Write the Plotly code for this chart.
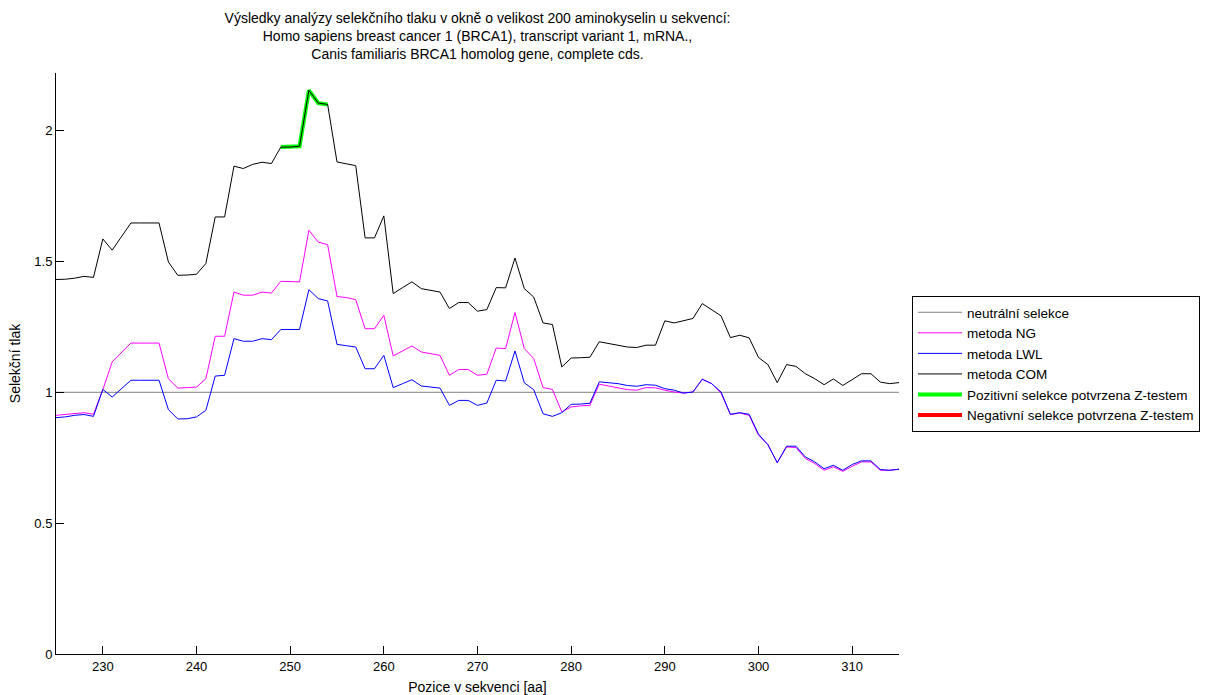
import plotly.graph_objects as go

# Pozice v sekvenci (aminokyseliny)
pozice = list(range(225, 316))

# Selekční tlak – metoda NG
metoda_ng = [
    0.912, 0.915, 0.918, 0.922, 0.916, 1.010, 1.116, 1.154, 1.188, 1.188,
    1.188, 1.188, 1.052, 1.016, 1.018, 1.020, 1.052, 1.214, 1.214, 1.383,
    1.371, 1.371, 1.383, 1.379, 1.424, 1.422, 1.422, 1.619, 1.574, 1.564,
    1.366, 1.362, 1.354, 1.243, 1.243, 1.294, 1.139, 1.158, 1.177, 1.154,
    1.148, 1.141, 1.065, 1.087, 1.087, 1.065, 1.069, 1.169, 1.167, 1.305,
    1.167, 1.129, 1.018, 1.011, 0.925, 0.944, 0.948, 0.950, 1.031, 1.023,
    1.017, 1.010, 1.008, 1.018, 1.017, 1.008, 1.001, 0.997, 1.001, 1.050,
    1.033, 0.997, 0.915, 0.921, 0.912, 0.836, 0.800, 0.731, 0.791, 0.789,
    0.747, 0.728, 0.702, 0.715, 0.698, 0.717, 0.734, 0.734, 0.702, 0.702,
    0.706,
]

# Selekční tlak – metoda LWL
metoda_lwl = [
    0.903, 0.906, 0.912, 0.915, 0.908, 1.011, 0.982, 1.014, 1.046, 1.046,
    1.046, 1.046, 0.934, 0.898, 0.899, 0.906, 0.931, 1.062, 1.065, 1.205,
    1.195, 1.195, 1.205, 1.201, 1.240, 1.240, 1.240, 1.392, 1.358, 1.349,
    1.183, 1.178, 1.173, 1.090, 1.090, 1.141, 1.018, 1.033, 1.048, 1.024,
    1.020, 1.016, 0.950, 0.969, 0.969, 0.950, 0.959, 1.046, 1.043, 1.158,
    1.036, 1.010, 0.918, 0.908, 0.922, 0.954, 0.955, 0.958, 1.040, 1.037,
    1.033, 1.026, 1.023, 1.029, 1.027, 1.014, 1.008, 0.997, 1.001, 1.050,
    1.033, 1.001, 0.916, 0.922, 0.916, 0.840, 0.800, 0.731, 0.794, 0.794,
    0.753, 0.734, 0.708, 0.721, 0.702, 0.724, 0.738, 0.738, 0.705, 0.702,
    0.706,
]

# Selekční tlak – metoda COM
metoda_com = [
    1.431, 1.432, 1.436, 1.443, 1.439, 1.586, 1.543, 1.595, 1.647, 1.647,
    1.647, 1.647, 1.498, 1.447, 1.448, 1.451, 1.492, 1.670, 1.670, 1.864,
    1.855, 1.871, 1.879, 1.874, 1.937, 1.937, 1.940, 2.154, 2.105, 2.100,
    1.880, 1.874, 1.866, 1.590, 1.590, 1.674, 1.377, 1.400, 1.422, 1.396,
    1.390, 1.383, 1.320, 1.343, 1.343, 1.310, 1.316, 1.400, 1.399, 1.513,
    1.396, 1.364, 1.265, 1.259, 1.097, 1.131, 1.132, 1.134, 1.193, 1.186,
    1.180, 1.173, 1.171, 1.180, 1.180, 1.273, 1.265, 1.273, 1.282, 1.339,
    1.316, 1.292, 1.209, 1.218, 1.208, 1.133, 1.106, 1.037, 1.106, 1.099,
    1.071, 1.052, 1.029, 1.051, 1.026, 1.048, 1.071, 1.071, 1.039, 1.033,
    1.037,
]

# Neutrální selekce
neutralni = 1.0

# Pozice se selekcí potvrzenou Z-testem (metoda COM)
pozitivni_pozice = [249, 250, 251, 252, 253, 254]
negativni_pozice = []

x_ticks = [230, 240, 250, 260, 270, 280, 290, 300, 310]
y_ticks = [0, 0.5, 1, 1.5, 2]
y_tick_text = ["0", "0.5", "1", "1.5", "2"]

com_dle_pozice = dict(zip(pozice, metoda_com))

FONT = "Liberation Sans, Arial, sans-serif"

fig = go.Figure()

fig.add_trace(go.Scatter(
    x=[pozice[0], pozice[-1]], y=[neutralni, neutralni], mode="lines",
    name="neutrální selekce", line=dict(color="#808080", width=1),
    legendrank=1,
))
fig.add_trace(go.Scatter(
    x=pozice, y=metoda_ng, mode="lines", name="metoda NG",
    line=dict(color="#ff00ff", width=1), legendrank=2,
))
fig.add_trace(go.Scatter(
    x=pozice, y=metoda_lwl, mode="lines", name="metoda LWL",
    line=dict(color="#0000ff", width=1), legendrank=3,
))
# zvýraznění pod křivkou COM
fig.add_trace(go.Scatter(
    x=pozitivni_pozice, y=[com_dle_pozice[p] for p in pozitivni_pozice],
    mode="lines", name="Pozitivní selekce potvrzena Z-testem",
    line=dict(color="#00ff00", width=4), legendrank=5,
))
fig.add_trace(go.Scatter(
    x=negativni_pozice if negativni_pozice else [pozice[0]],
    y=[com_dle_pozice[p] for p in negativni_pozice] if negativni_pozice else [None],
    mode="lines", name="Negativní selekce potvrzena Z-testem",
    line=dict(color="#ff0000", width=4), legendrank=6,
))
fig.add_trace(go.Scatter(
    x=pozice, y=metoda_com, mode="lines", name="metoda COM",
    line=dict(color="#000000", width=1), legendrank=4,
))

fig.update_layout(
    width=1208, height=695,
    margin=dict(l=56, r=309, t=73, b=41, autoexpand=False),
    paper_bgcolor="white", plot_bgcolor="white",
    font=dict(family=FONT, size=14, color="black"),
    title=dict(
        text=("Výsledky analýzy selekčního tlaku v okně o velikost 200 aminokyselin u sekvencí:<br>"
              "Homo sapiens breast cancer 1 (BRCA1), transcript variant 1, mRNA.,<br>"
              "Canis familiaris BRCA1 homolog gene, complete cds."),
        x=0.5, xref="paper", xanchor="center",
        y=1 - 23 / 695, yref="container", yanchor="top",
        font=dict(family=FONT, size=14, color="black"),
    ),
    showlegend=True,
    legend=dict(
        x=(912 - 56) / 843, y=(654 - 296) / 581, xanchor="left", yanchor="top",
        xref="paper", yref="paper",
        bgcolor="white", bordercolor="black", borderwidth=1,
        font=dict(family=FONT, size=13.5, color="black"),
        itemwidth=44, tracegroupgap=0,
    ),
    xaxis=dict(
        range=[225, 315], tickvals=x_ticks, ticks="inside", ticklen=8,
        tickcolor="black", showline=True, linecolor="black", linewidth=1,
        showgrid=False, zeroline=False, mirror=False, automargin=False,
        tickfont=dict(family=FONT, size=13),
        title=dict(text="Pozice v sekvenci [aa]",
                   font=dict(family=FONT, size=14)),
    ),
    yaxis=dict(
        range=[0, 2.22], tickvals=y_ticks, ticktext=y_tick_text,
        ticks="inside", ticklen=8, tickcolor="black",
        showline=True, linecolor="black", linewidth=1,
        showgrid=False, zeroline=False, mirror=False, automargin=False,
        tickfont=dict(family=FONT, size=13),
        title=dict(text="Selekční tlak", standoff=10,
                   font=dict(family=FONT, size=14)),
    ),
)

fig.write_html("out.html")
